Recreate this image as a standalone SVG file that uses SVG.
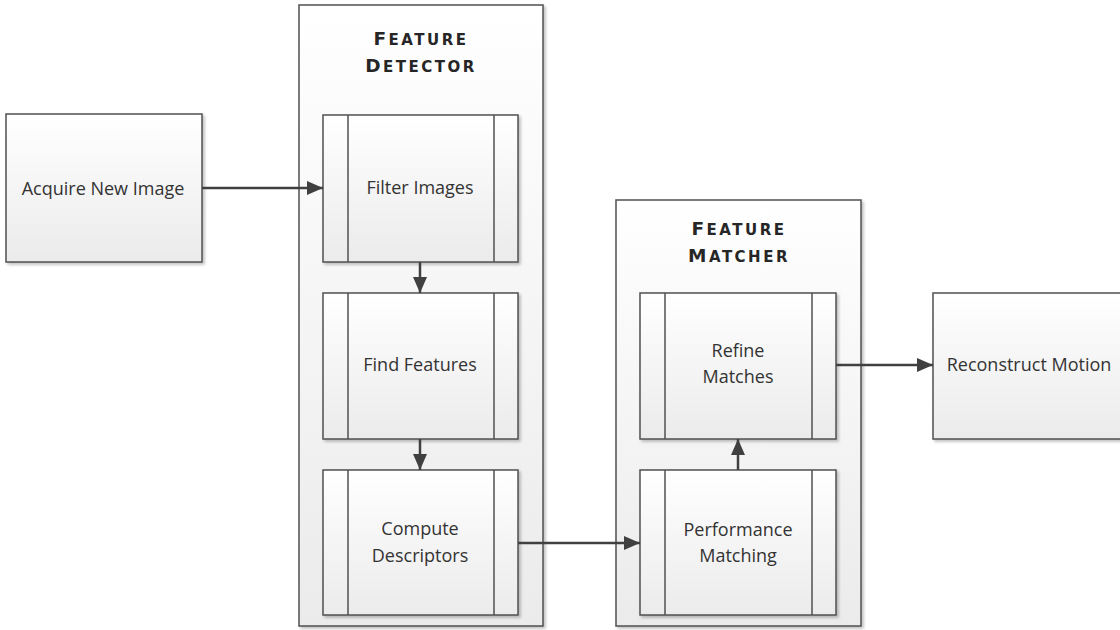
<svg xmlns="http://www.w3.org/2000/svg" width="1120" height="630" viewBox="0 0 1120 630">
  <defs>
    <linearGradient id="boxFill" x1="0" y1="0" x2="0" y2="1">
      <stop offset="0" stop-color="#ffffff"/>
      <stop offset="1" stop-color="#ebebeb"/>
    </linearGradient>
    <filter id="shadow" x="-5%" y="-5%" width="115%" height="115%">
      <feGaussianBlur in="SourceAlpha" stdDeviation="1.5"/>
      <feOffset dx="2" dy="2" result="blur"/>
      <feComponentTransfer><feFuncA type="linear" slope="0.25"/></feComponentTransfer>
      <feMerge><feMergeNode/><feMergeNode in="SourceGraphic"/></feMerge>
    </filter>
    <marker id="arrow" viewBox="0 0 16 14" refX="16" refY="7" markerWidth="16" markerHeight="14" markerUnits="userSpaceOnUse" orient="auto">
      <path d="M0,0 L16,7 L0,14 z" fill="#404040"/>
    </marker>
  </defs>
  <style>
    .box { fill: url(#boxFill); stroke: #505050; stroke-width: 1.5; filter: url(#shadow); }
    .bar { stroke: #505050; stroke-width: 1.5; }
    .label { font-family: "Open Sans", "Liberation Sans", sans-serif; font-size: 18px; fill: #333333; text-anchor: middle; }
    .title { font-family: "DejaVu Sans", "Liberation Sans", sans-serif; font-weight: bold; fill: #262626; text-anchor: middle; letter-spacing: 2.5px; }
    .big { font-size: 18.5px; }
    .small { font-size: 15px; }
    .conn { fill: none; stroke: #404040; stroke-width: 2.5; marker-end: url(#arrow); }
  </style>

  <rect width="1120" height="630" fill="#ffffff"/>

  <!-- Containers -->
  <g id="feature-detector">
    <rect class="box" x="299" y="5" width="244" height="621"/>
    <text class="title" x="421" y="45"><tspan class="big">F</tspan><tspan class="small">EATURE</tspan></text>
    <text class="title" x="421" y="72"><tspan class="big">D</tspan><tspan class="small">ETECTOR</tspan></text>
  </g>

  <g id="feature-matcher">
    <rect class="box" x="616" y="200" width="245" height="426"/>
    <text class="title" x="739" y="235"><tspan class="big">F</tspan><tspan class="small">EATURE</tspan></text>
    <text class="title" x="739" y="262"><tspan class="big">M</tspan><tspan class="small">ATCHER</tspan></text>
  </g>

  <!-- Simple process boxes -->
  <g id="acquire-new-image">
    <rect class="box" x="6" y="114" width="196" height="148"/>
    <text class="label" x="103" y="195">Acquire New Image</text>
  </g>

  <g id="reconstruct-motion">
    <rect class="box" x="933" y="293" width="200" height="146"/>
    <text class="label" x="1029" y="371">Reconstruct Motion</text>
  </g>

  <!-- Predefined-process boxes (side bars) -->
  <g id="filter-images">
    <rect class="box" x="323" y="115" width="195" height="147"/>
    <line class="bar" x1="348" y1="115" x2="348" y2="262"/>
    <line class="bar" x1="494" y1="115" x2="494" y2="262"/>
    <text class="label" x="420" y="194">Filter Images</text>
  </g>

  <g id="find-features">
    <rect class="box" x="323" y="293" width="195" height="146"/>
    <line class="bar" x1="348" y1="293" x2="348" y2="439"/>
    <line class="bar" x1="494" y1="293" x2="494" y2="439"/>
    <text class="label" x="420" y="371">Find Features</text>
  </g>

  <g id="compute-descriptors">
    <rect class="box" x="323" y="470" width="195" height="145"/>
    <line class="bar" x1="348" y1="470" x2="348" y2="615"/>
    <line class="bar" x1="494" y1="470" x2="494" y2="615"/>
    <text class="label" x="420" y="535">Compute</text>
    <text class="label" x="420" y="562">Descriptors</text>
  </g>

  <g id="refine-matches">
    <rect class="box" x="640" y="293" width="196" height="146"/>
    <line class="bar" x1="665" y1="293" x2="665" y2="439"/>
    <line class="bar" x1="812" y1="293" x2="812" y2="439"/>
    <text class="label" x="738" y="357">Refine</text>
    <text class="label" x="738" y="383">Matches</text>
  </g>

  <g id="performance-matching">
    <rect class="box" x="640" y="470" width="196" height="145"/>
    <line class="bar" x1="665" y1="470" x2="665" y2="615"/>
    <line class="bar" x1="812" y1="470" x2="812" y2="615"/>
    <text class="label" x="738" y="536">Performance</text>
    <text class="label" x="738" y="562">Matching</text>
  </g>

  <!-- Connectors -->
  <g id="connectors">
    <path class="conn" d="M202,188 L323,188"/>
    <path class="conn" d="M420,262 L420,293"/>
    <path class="conn" d="M420,439 L420,470"/>
    <path class="conn" d="M518,543 L640,543"/>
    <path class="conn" d="M738,470 L738,439"/>
    <path class="conn" d="M836,365 L933,365"/>
  </g>
</svg>
